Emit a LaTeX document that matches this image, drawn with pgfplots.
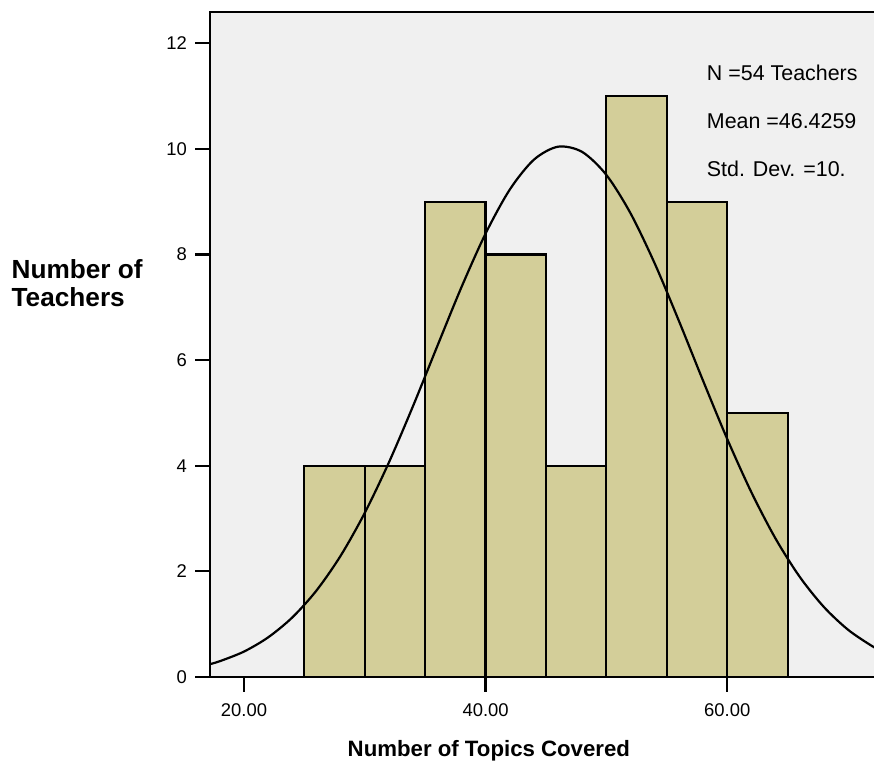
\documentclass[border=0pt]{standalone}
\usepackage{fontspec}
\setmainfont{Liberation Sans}
\usepackage{pgfplots}
\pgfplotsset{compat=1.18}
\definecolor{barfill}{RGB}{211,206,153}
\definecolor{bgfill}{RGB}{240,240,240}
\begin{document}
\begin{tikzpicture}
\path[use as bounding box] (-210bp,-86bp) rectangle (664bp,677bp);
\begin{axis}[
  at={(0,0)}, anchor=south west,
  scale only axis, width=664bp, height=665bp,
  xmin=17.19, xmax=72.15, ymin=0, ymax=12.59,
  axis background/.style={fill=bgfill},
  axis line style={draw=none},
  xtick={20,40,60}, xticklabels={20.00,40.00,60.00},
  ytick={0,2,4,6,8,10,12},
  xtick pos=left, ytick pos=left,
  tick align=outside,
  major tick length=14.5bp,
  major tick style={line width=2.2bp, black},
  ticklabel style={font=\fontsize{18.5}{20}\selectfont},
  xticklabel style={yshift=-9bp},
  yticklabel style={xshift=-5bp},
  /pgf/number format/assume math mode=true,
  xlabel={Number of Topics Covered},
  xlabel style={at={(rel axis cs:0.42,-0.1188)}, anchor=base, inner sep=0pt,
    font=\bfseries\fontsize{22.3}{26}\selectfont},
  ylabel={Number of\\Teachers},
  ylabel style={rotate=-90, align=left, anchor=west, inner sep=0pt,
    at={(rel axis cs:-0.299,0.5925)},
    font=\bfseries\fontsize{26.3}{28.3}\selectfont},
  clip=true,
]
\addplot[ybar interval, fill=barfill, draw=black, line width=2.2bp]
  coordinates {(25,4)(30,4)(35,9)(40,8)(45,4)(50,11)(55,9)(60,5)(65,5)};
\addplot[black, line width=2.2bp, smooth, tension=0.5, mark=none] coordinates {
  (17,0.232)(18,0.299)(20,0.481)(22,0.750)(24,1.127)(26,1.636)(28,2.294)
  (30,3.107)(32,4.063)(34,5.132)(36,6.262)(38,7.378)(40,8.395)(42,9.227)
  (44,9.794)(46,10.040)(48,9.940)(50,9.505)(52,8.778)(54,7.829)
  (56,6.743)(58,5.610)(60,4.507)(62,3.498)(64,2.621)(66,1.897)(68,1.326)
  (70,0.895)(72,0.584)(73,0.465)};
\node[anchor=base west, inner sep=0pt, font=\fontsize{21.5}{24}\selectfont]
  at (rel axis cs:0.7481,0.8977) {N =54 Teachers};
\node[anchor=base west, inner sep=0pt, font=\fontsize{21.5}{24}\selectfont]
  at (rel axis cs:0.7481,0.8251) {Mean =46.4259};
\node[anchor=base west, inner sep=0pt, font=\fontsize{21.5}{24}\selectfont]
  at (rel axis cs:0.7481,0.7523) {Std. Dev. =10.};
\end{axis}
\draw[black, line width=2.2bp] (664bp,665bp) -- (0bp,665bp) -- (0bp,0bp) -- (664bp,0bp);
\end{tikzpicture}
\end{document}
